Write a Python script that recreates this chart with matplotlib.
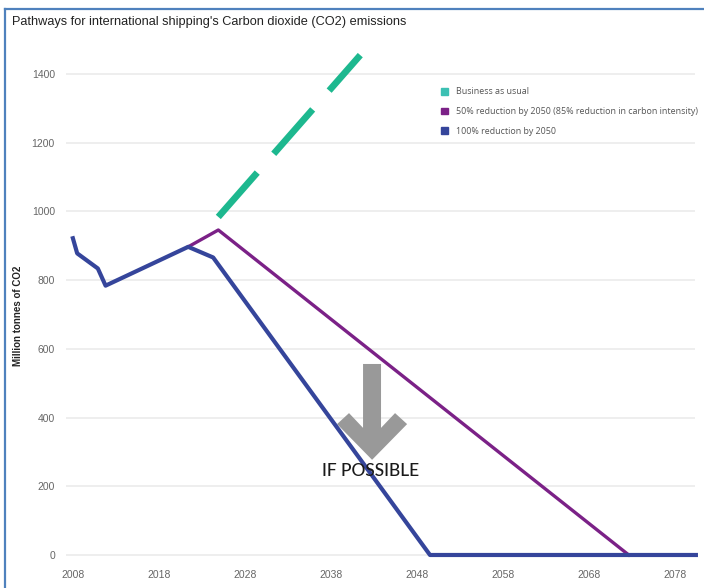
import matplotlib
matplotlib.use("Agg")
import matplotlib.pyplot as plt
from matplotlib.patches import Patch, Polygon
from matplotlib.lines import Line2D

# Données
bau_years = [2024.9, 2041.4]
bau_values = [984, 1455]

half_years = [2021.4, 2024.9, 2072.6]
half_values = [897, 946, 0]

full_years = [2008.0, 2008.5, 2010.9, 2011.8, 2021.4, 2024.3, 2049.5, 2080.4]
full_values = [922, 878, 834, 784, 897, 866, 0, 0]

x_ticks = [2008, 2018, 2028, 2038, 2048, 2058, 2068, 2078]
y_ticks = [0, 200, 400, 600, 800, 1000, 1200, 1400]

legend_labels = [
    "Business as usual",
    "50% reduction by 2050 (85% reduction in carbon intensity)",
    "100% reduction by 2050",
]

# Flèche "IF POSSIBLE" (coordonnées des données)
arrow_x = [2041.72, 2043.81, 2043.81, 2045.44, 2046.84, 2042.77, 2038.70, 2040.09, 2041.72]
arrow_y = [556, 556, 370, 413, 381, 277, 381, 413, 370]

GREEN = "#1db88f"
TEAL = "#3cc0b3"
PURPLE = "#7b2187"
BLUE = "#35459b"
NARROW = ["Liberation Sans", "DejaVu Sans"]

plt.rcParams["lines.scale_dashes"] = False

fig = plt.figure(figsize=(7.04, 5.88), dpi=100)
ax = fig.add_axes([0.09375, 0.0503, 0.8935, 0.8647])

ax.plot(full_years, full_values, color=BLUE, lw=3.0, zorder=4,
        solid_joinstyle="round", clip_on=False)
ax.plot(half_years, half_values, color=PURPLE, lw=2.4, zorder=3)
ax.plot(bau_years, bau_values, color=GREEN, lw=4.8, dashes=(42.5, 18),
        dash_capstyle="butt", zorder=3)

ax.add_patch(Polygon(list(zip(arrow_x, arrow_y)), closed=True,
                     facecolor="#999999", edgecolor="none", zorder=2))
ax.text(2042.65, 245, "IF POSSIBLE", ha="center", va="center",
        fontsize=12.5, color="#1a1a1a", family=["Lato", "DejaVu Sans"],
        fontweight="medium", zorder=5)

ax.set_xlim(2007.2, 2080.3)
ax.set_ylim(-10, 1470)
ax.set_xticks(x_ticks)
ax.set_yticks(y_ticks)
ax.grid(axis="y", color="#ebebeb", lw=1.2)
ax.set_axisbelow(True)
for s in ax.spines.values():
    s.set_visible(False)
ax.tick_params(length=0, labelsize=7.5, labelcolor="#666666", pad=8)
for lab in ax.get_xticklabels() + ax.get_yticklabels():
    lab.set_family(NARROW)

handles = [Patch(color=TEAL), Patch(color=PURPLE), Patch(color=BLUE)]
leg = ax.legend(handles, legend_labels, loc="upper left",
                bbox_to_anchor=(0.583, 0.942), frameon=False,
                prop={"family": ["Open Sans", "DejaVu Sans"], "size": 6.4},
                handlelength=0.8, handleheight=0.8, handletextpad=0.9,
                labelspacing=1.2)
for t in leg.get_texts():
    t.set_color("#555555")

fig.text(12 / 704, 1 - 22 / 588, "Pathways for international shipping's Carbon dioxide (CO2) emissions",
         ha="left", va="center", fontsize=9.2, color="#222222", family=NARROW)
fig.text(18 / 704, 1 - 316 / 588, "Million tonnes of CO2", rotation=90,
         ha="center", va="center", fontsize=7, fontweight="bold",
         color="#222222", family=NARROW)

# cadre bleu
fig.add_artist(Line2D([5 / 704, 1.0], [1 - 9 / 588, 1 - 9 / 588],
                      color="#4f81bd", lw=1.6, transform=fig.transFigure))
fig.add_artist(Line2D([5 / 704, 5 / 704], [0, 1 - 9 / 588],
                      color="#4f81bd", lw=1.6, transform=fig.transFigure))

plt.savefig("out.png", dpi=100)
